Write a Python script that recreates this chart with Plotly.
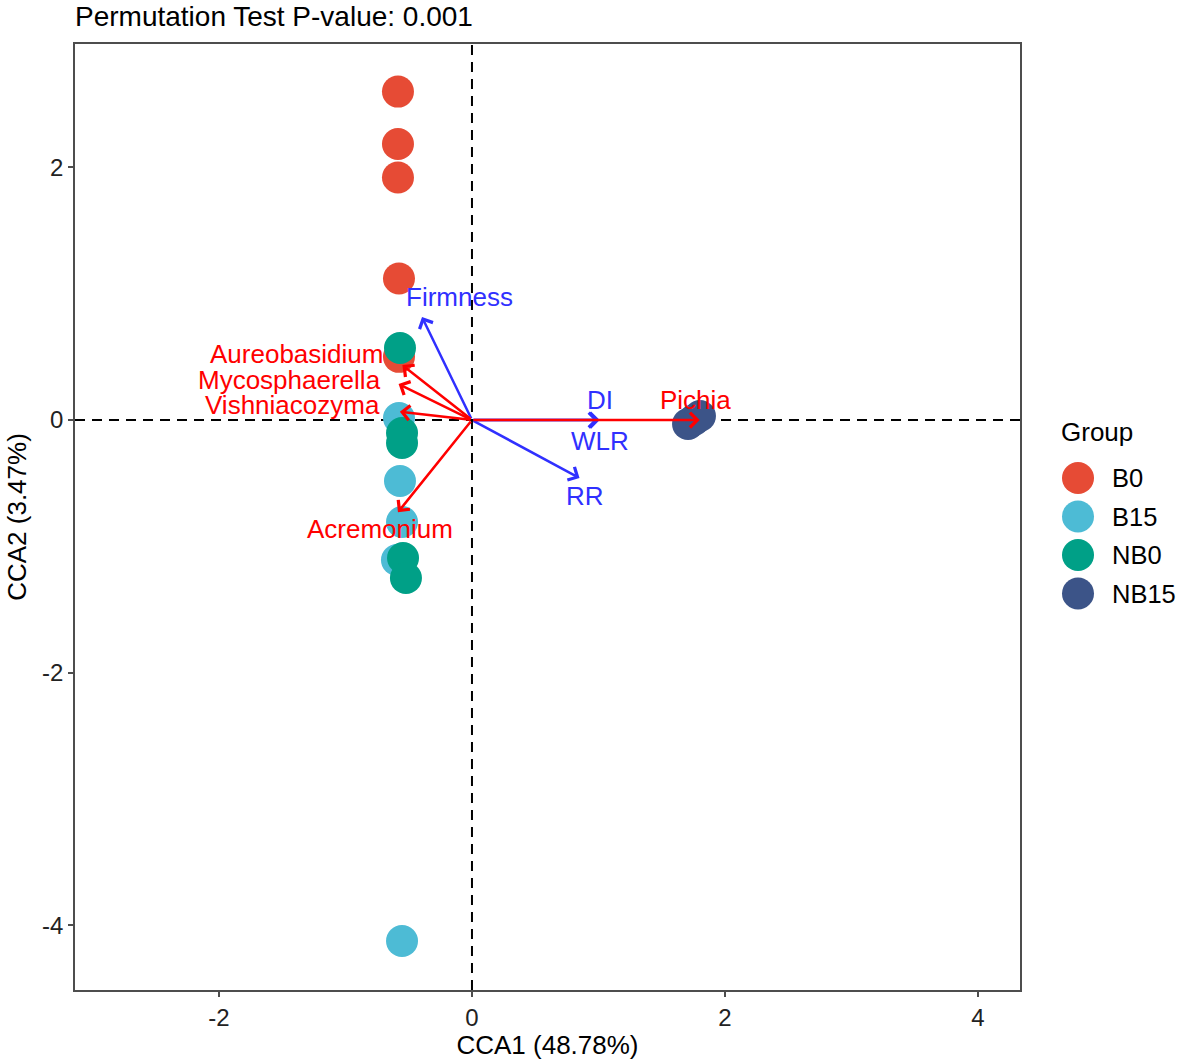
import plotly.graph_objects as go

# ---------------- data ----------------
groups = ["B0", "B15", "NB0", "NB15"]
group_colors = ["#E64B35", "#4DBBD5", "#00A087", "#3C5488"]

b0_x = [-0.585, -0.585, -0.585, -0.577, -0.577]
b0_y = [2.60, 2.185, 1.92, 1.12, 0.50]
b15_x = [-0.577, -0.569, -0.553, -0.593, -0.553]
b15_y = [0.016, -0.483, -0.808, -1.108, -4.125]
nb0_x = [-0.569, -0.553, -0.553, -0.545, -0.522]
nb0_y = [0.570, -0.103, -0.182, -1.093, -1.251]
nb15_x = [1.708, 1.755, 1.802]
nb15_y = [-0.032, 0.0, 0.032]

species = ["Pichia", "Aureobasidium", "Mycosphaerella", "Vishniacozyma", "Acremonium"]
species_x = [1.80, -0.55, -0.58, -0.57, -0.585]
species_y = [0.0, 0.435, 0.285, 0.065, -0.73]
species_lab_x = [1.77, -1.39, -1.44, -1.42, -0.73]
species_lab_y = [0.16, 0.52, 0.32, 0.12, -0.86]

env = ["Firmness", "DI", "WLR", "RR"]
env_x = [-0.395, 1.01, 1.00, 0.85]
env_y = [0.815, 0.0, 0.0, -0.46]
env_lab_x = [-0.10, 1.01, 1.01, 0.89]
env_lab_y = [0.97, 0.16, -0.17, -0.60]

title_text = "Permutation Test P-value: 0.001"
x_title = "CCA1 (48.78%)"
y_title = "CCA2 (3.47%)"
x_ticks = [-2, 0, 2, 4]
y_ticks = [-4, -2, 0, 2]

# ---------------- figure ----------------
W, H = 1179, 1060
L, R, T, B = 75, 159, 44, 70
FONT = "Liberation Sans, Arial, sans-serif"
RED = "#FF0000"
BLUE = "#3030FF"
LAB_SIZE = 26

fig = go.Figure()
pts = [(b0_x, b0_y), (b15_x, b15_y), (nb0_x, nb0_y), (nb15_x, nb15_y)]
for g, c, (xs, ys) in zip(groups, group_colors, pts):
    fig.add_trace(go.Scatter(x=xs, y=ys, mode="markers", name=g,
                             marker=dict(size=32, color=c, line=dict(width=0)),
                             showlegend=False))

# zero lines
fig.add_shape(type="line", xref="x", yref="paper", x0=0, x1=0, y0=0, y1=1,
              line=dict(color="black", width=2, dash="10px,7px"), layer="below")
fig.add_shape(type="line", xref="paper", yref="y", x0=0, x1=1, y0=0, y1=0,
              line=dict(color="black", width=2, dash="10px,7px"), layer="below")

def add_arrows(xs, ys, color):
    for xv, yv in zip(xs, ys):
        fig.add_annotation(x=xv, y=yv, ax=0, ay=0, xref="x", yref="y",
                           axref="x", ayref="y", showarrow=True, text="",
                           arrowhead=4, arrowsize=1.15, arrowwidth=2.5,
                           arrowcolor=color, standoff=0)

add_arrows(env_x, env_y, BLUE)
add_arrows(species_x, species_y, RED)

for t, xv, yv in zip(species, species_lab_x, species_lab_y):
    fig.add_annotation(x=xv, y=yv, text=t, showarrow=False, xref="x", yref="y",
                       font=dict(family=FONT, size=LAB_SIZE, color=RED))
for t, xv, yv in zip(env, env_lab_x, env_lab_y):
    fig.add_annotation(x=xv, y=yv, text=t, showarrow=False, xref="x", yref="y",
                       font=dict(family=FONT, size=LAB_SIZE, color=BLUE))

# manual legend (large keys)
pw, ph = W - L - R, H - T - B
def px2paper(px, py):
    return (px - L) / pw, (H - B - py) / ph

gx, gy = px2paper(1059, 432)
fig.add_annotation(x=gx, y=gy, xref="paper", yref="paper", text="Group",
                   showarrow=False, xanchor="left", yanchor="middle",
                   font=dict(family=FONT, size=26, color="black"))
for i, (g, c) in enumerate(zip(groups, group_colors)):
    cy = 478 + i * 38.5
    kx, ky = px2paper(1078, cy)
    fig.add_shape(type="circle", xref="paper", yref="paper",
                  xsizemode="pixel", ysizemode="pixel", xanchor=kx, yanchor=ky,
                  x0=-16, x1=16, y0=-16, y1=16,
                  fillcolor=c, line=dict(width=0))
    tx, ty = px2paper(1110, cy)
    fig.add_annotation(x=tx, y=ty, xref="paper", yref="paper", text=g,
                       showarrow=False, xanchor="left", yanchor="middle",
                       font=dict(family=FONT, size=25.5, color="black"))

axis_common = dict(showgrid=False, zeroline=False, showline=True, mirror=True,
                   linecolor="#4D4D4D", linewidth=1.5, ticks="outside", ticklen=5,
                   tickwidth=1.5, tickcolor="#4D4D4D", automargin=False,
                   tickfont=dict(family=FONT, size=24, color="#222222"))

fig.update_layout(
    width=W, height=H,
    margin=dict(l=L, r=R, t=T, b=B),
    paper_bgcolor="white", plot_bgcolor="white",
    title=dict(text=title_text, x=L / W, xanchor="left", xref="container",
               y=1 - 16 / H, yanchor="middle", yref="container",
               font=dict(family=FONT, size=28, color="black")),
    showlegend=False,
    xaxis=dict(range=[-3.138, 4.332], tickvals=x_ticks,
               ticktext=[str(v) if v >= 0 else "-" + str(-v) for v in x_ticks],
               title=dict(text=x_title, standoff=10,
                          font=dict(family=FONT, size=26, color="black")),
               **axis_common),
    yaxis=dict(range=[-4.513, 2.977], tickvals=y_ticks,
               ticktext=[str(v) if v >= 0 else "-" + str(-v) for v in y_ticks],
               title=dict(text=y_title, standoff=8,
                          font=dict(family=FONT, size=26, color="black")),
               **axis_common),
)

fig.write_html("out.html", config={"displayModeBar": False},
               post_script="document.body.style.margin='0';document.body.style.padding='0';")
